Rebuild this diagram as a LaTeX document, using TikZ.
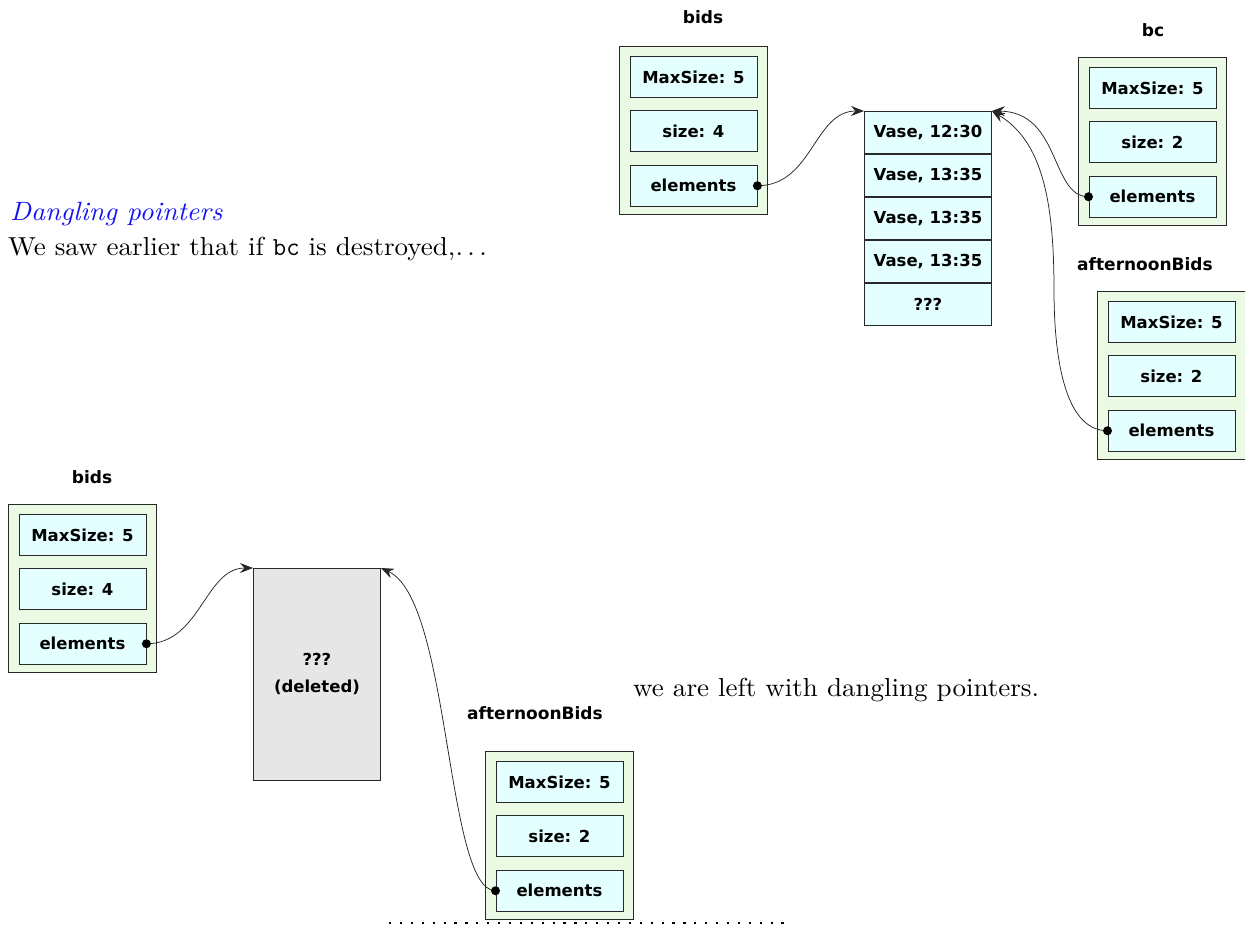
\documentclass[tikz,border=0pt]{standalone}
\usepackage{fontspec}
\newfontfamily\boxfont{DejaVu Sans}
\newfontfamily\bodyfont{lmroman10}[Extension=.otf, UprightFont=*-regular, ItalicFont=*-italic, FakeStretch=1.04]
\usetikzlibrary{positioning,arrows.meta}
\definecolor{outerfill}{RGB}{234,250,228}
\definecolor{cellfill}{RGB}{228,255,255}
\definecolor{delfill}{RGB}{230,230,230}
\definecolor{edge}{RGB}{40,40,40}
\definecolor{titleblue}{RGB}{20,20,240}
\tikzset{
  outerbox/.style={draw=edge, line width=0.9pt, fill=outerfill, minimum width=148pt, minimum height=168pt, inner sep=0pt, anchor=north west},
  cell/.style={draw=edge, line width=0.9pt, fill=cellfill, minimum width=127pt, minimum height=41pt, inner sep=0pt, font=\boxfont\bfseries\fontsize{16.5}{19}\selectfont},
  acell/.style={cell, minimum height=42pt},
  objlabel/.style={inner sep=0pt, font=\boxfont\bfseries\fontsize{17}{20}\selectfont},
  ptr/.style={draw=black!85, line width=0.75pt, -{Stealth[length=13pt,width=10pt,inset=4.5pt]}},
  dotend/.style={fill=black},
  bodytext/.style={inner sep=0pt, anchor=base west, font=\bodyfont\fontsize{26}{31}\selectfont},
}
\begin{document}
\begin{tikzpicture}[x=1pt,y=-1pt]
\useasboundingbox (0,0) rectangle (1245,928);

% text
\node[bodytext, text=titleblue, font=\bodyfont\itshape\fontsize{26.5}{31}\selectfont] (title) at (10,221) {Dangling pointers};
\node[bodytext] (line1) at (8,255) {We saw earlier that if {\ttfamily bc} is destroyed,.\kern.17em.\kern.17em.};
\node[bodytext] (line2) at (633,696) {we are left with dangling pointers.};

% ---------- top diagram ----------
\node[outerbox] (tb) at (619,46) {};
\node[cell, below=10pt of tb.north] (tbmax) {MaxSize: 5};
\node[cell, below=12.5pt of tbmax] (tbsize) {size: 4};
\node[cell, below=12.5pt of tbsize] (tbel) {elements};
\node[objlabel] (tblbl) at (703,17) {bids};

\node[outerbox] (bc) at (1078,57) {};
\node[cell, below=10pt of bc.north] (bcmax) {MaxSize: 5};
\node[cell, below=12.5pt of bcmax] (bcsize) {size: 2};
\node[cell, below=12.5pt of bcsize] (bcel) {elements};
\node[objlabel] (bclbl) at (1153,30) {bc};

\node[outerbox] (ta) at (1097,291) {};
\node[cell, below=10pt of ta.north] (tamax) {MaxSize: 5};
\node[cell, below=12.5pt of tamax] (tasize) {size: 2};
\node[cell, below=12.5pt of tasize] (tael) {elements};
\node[objlabel] (talbl) at (1145,264) {afternoonBids};

\node[acell, anchor=north west] (a1) at (864,111) {Vase, 12:30};
\node[acell, anchor=north] (a2) at (a1.south) {Vase, 13:35};
\node[acell, anchor=north] (a3) at (a2.south) {Vase, 13:35};
\node[acell, anchor=north] (a4) at (a3.south) {Vase, 13:35};
\node[acell, anchor=north] (a5) at (a4.south) {???};

\coordinate (tamid) at (1054,290);
\draw[ptr] (tbel.east) .. controls +(55,0) and +(-50,0) .. (a1.north west);
\draw[ptr] (bcel.west) .. controls +(-38,0) and +(69,1) .. (a1.north east);
\draw[ptr] (tael.west) .. controls +(-45,0) and +(0,60) .. (tamid) .. controls +(0,-90) and +(50,30) .. (a1.north east);
\fill[dotend] (tbel.east) circle (4.5pt);
\fill[dotend] (bcel.west) circle (4.5pt);
\fill[dotend] (tael.west) circle (4.5pt);

% ---------- bottom diagram ----------
\node[outerbox] (bb) at (8,504) {};
\node[cell, below=10pt of bb.north] (bbmax) {MaxSize: 5};
\node[cell, below=12.5pt of bbmax] (bbsize) {size: 4};
\node[cell, below=12.5pt of bbsize] (bbel) {elements};
\node[objlabel] (bblbl) at (92,477) {bids};

\node[outerbox] (ba) at (485,751) {};
\node[cell, below=10pt of ba.north] (bamax) {MaxSize: 5};
\node[cell, below=12.5pt of bamax] (basize) {size: 2};
\node[cell, below=12.5pt of basize] (bael) {elements};
\node[objlabel] (balbl) at (535,713) {afternoonBids};

\node[draw=edge, line width=0.9pt, fill=delfill, minimum width=127pt, minimum height=212pt, anchor=north west, inner sep=0pt, align=center, font=\boxfont\bfseries\fontsize{16.5}{27}\selectfont] (del) at (253,568) {???\\(deleted)};

\draw[ptr] (bbel.east) .. controls +(54,0) and +(-48,0) .. (del.north west);
\draw[ptr] (bael.west) .. controls +(-50,0) and +(70,32) .. (del.north east);
\fill[dotend] (bbel.east) circle (4.5pt);
\fill[dotend] (bael.west) circle (4.5pt);

% dotted rule
\coordinate (rs) at (389,923);
\coordinate (re) at (790,923);
\draw[line width=2.2pt, dash pattern=on 2.2pt off 8.7pt] (rs) -- (re);
\end{tikzpicture}
\end{document}
